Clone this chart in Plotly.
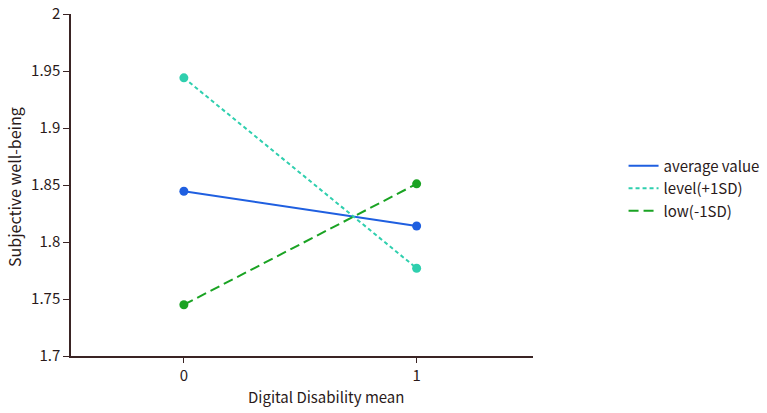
import plotly.graph_objects as go

x_vals = [0, 1]
average_value = [1.8445, 1.8140]
level_plus = [1.9440, 1.7770]
low_minus = [1.7450, 1.8510]
series_names = ["average value", "level(+1SD)", "low(-1SD)"]
y_ticks = [1.7, 1.75, 1.8, 1.85, 1.9, 1.95, 2]
y_tick_text = ["1.7", "1.75", "1.8", "1.85", "1.9", "1.95", "2"]

font_family = "Noto Sans CJK SC, Noto Sans, sans-serif"
text_color = "#2a1a1a"
axis_color = "#3a2424"

L, R, T, B = 71, 234, 14, 57
W, H = 767, 413

fig = go.Figure()
styles = [
    ("#1f5fe0", "solid", average_value),
    ("#2fcfae", "4px,3px", level_plus),
    ("#1aa323", "10px,5px", low_minus),
]
for name, (color, dash, ys) in zip(series_names, styles):
    fig.add_trace(go.Scatter(
        x=x_vals, y=ys, name=name, mode="lines",
        line=dict(color=color, width=2, dash=dash),
    ))
    fig.add_trace(go.Scatter(
        x=x_vals, y=ys, name=name, mode="markers", showlegend=False,
        marker=dict(color=color, size=9),
    ))

pw, ph = W - L - R, H - T - B
def px2paper(px, py):
    return (px - L) / pw, (H - B - py) / ph
ax, ay = px2paper(326, 396)
bx, by = px2paper(14, 187)

fig.update_layout(
    width=W, height=H,
    margin=dict(l=L, r=R, t=T, b=B, autoexpand=False),
    paper_bgcolor="white", plot_bgcolor="white",
    font=dict(family=font_family, color=text_color, size=14),
    showlegend=True,
    legend=dict(x=1.196, y=0.49, xanchor="left", yanchor="middle",
                font=dict(size=15, color=text_color), tracegroupgap=0,
                itemwidth=30),
    xaxis=dict(range=[-0.485, 1.5], tickvals=[0, 1], ticktext=["0", "1"],
               showgrid=False, zeroline=False, showline=True,
               linecolor=axis_color, linewidth=1.5, ticks="outside",
               ticklen=5, tickcolor=axis_color, tickfont=dict(size=15)),
    yaxis=dict(range=[1.7, 2.0], tickvals=y_ticks, ticktext=y_tick_text,
               showgrid=False, zeroline=False, showline=True,
               linecolor=axis_color, linewidth=1.5, ticks="outside",
               ticklen=6, tickcolor=axis_color, tickfont=dict(size=15)),
    annotations=[
        dict(text="Digital Disability mean", x=ax, y=ay, xref="paper", yref="paper",
             xanchor="center", yanchor="middle",
             showarrow=False, font=dict(size=15, color=text_color)),
        dict(text="Subjective well-being", x=bx, y=by, xref="paper", yref="paper",
             xanchor="center", yanchor="middle",
             showarrow=False, textangle=-90, font=dict(size=16, color=text_color)),
    ],
)

fig.write_html("out.html")
